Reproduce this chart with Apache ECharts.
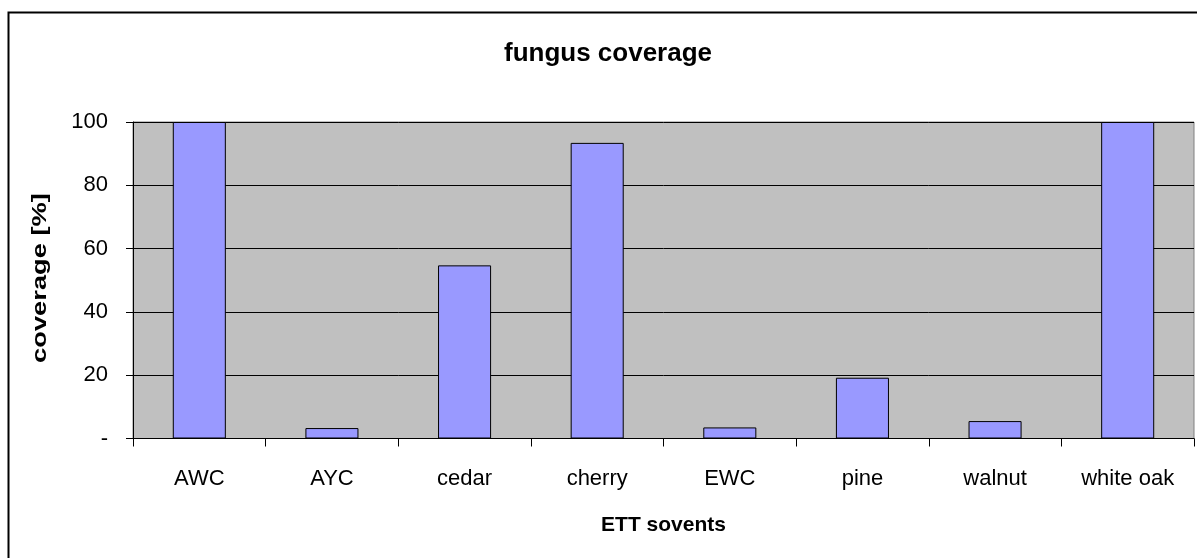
<!DOCTYPE html>
<html>
<head>
<meta charset="utf-8">
<script src="https://cdn.jsdelivr.net/npm/echarts@6/dist/echarts.min.js"></script>
<style>
  html, body { margin: 0; padding: 0; background: #fff; }
  #chart { width: 1197px; height: 558px; }
</style>
</head>
<body>
<div id="chart"></div>
<script>
const categories = ['AWC', 'AYC', 'cedar', 'cherry', 'EWC', 'pine', 'walnut', 'white oak'];
const coverage = [100, 3.3, 54.7, 93.4, 3.5, 19.2, 5.5, 100];
const yTicks = [0, 20, 40, 60, 80, 100];

const chart = echarts.init(document.getElementById('chart'), null, { renderer: 'canvas' });
const FONT = '"Liberation Sans", Arial, sans-serif';

chart.setOption({
  animation: false,
  backgroundColor: '#ffffff',
  title: {
    text: 'fungus coverage',
    left: 603, top: 36,
    textAlign: 'center',
    textStyle: { fontFamily: FONT, fontSize: 26, fontWeight: 'bold', color: '#000' }
  },
  graphic: [
    {
      // outer chart frame
      type: 'rect',
      shape: { x: 8.5, y: 12.5, width: 1300, height: 700 },
      style: { fill: 'none', stroke: '#000', lineWidth: 2 },
      silent: true
    },
    {
      // value axis title, drawn vertically
      type: 'text',
      x: 40, y: 278,
      rotation: Math.PI / 2,
      scaleX: 1.3,
      style: {
        text: 'coverage [%]',
        fontFamily: FONT, fontSize: 21, fontWeight: 'bold', fill: '#000',
        align: 'center', verticalAlign: 'middle'
      },
      silent: true
    }
  ],
  grid: {
    left: 133, right: 3, top: 122, bottom: 119.5,
    show: true,
    backgroundColor: '#c0c0c0',
    borderColor: '#808080',
    borderWidth: 1
  },
  xAxis: {
    type: 'category',
    data: categories,
    name: 'ETT sovents',
    nameLocation: 'middle',
    nameGap: 76,
    nameTextStyle: { fontFamily: FONT, fontSize: 21, fontWeight: 'bold', color: '#000' },
    axisLine: { lineStyle: { color: '#000', width: 1 } },
    axisTick: { show: true, length: 8, lineStyle: { color: '#000' }, alignWithLabel: false },
    axisLabel: { fontFamily: FONT, fontSize: 22, color: '#000', margin: 29 },
    splitLine: { show: false }
  },
  yAxis: {
    type: 'value',
    min: 0, max: 100, interval: 20,
    axisLine: { show: true, lineStyle: { color: '#000', width: 1 } },
    axisTick: { show: true, length: 7, lineStyle: { color: '#000' } },
    axisLabel: {
      fontFamily: FONT, fontSize: 22, color: '#000', margin: 25,
      formatter: function (v) { return yTicks.indexOf(v) === 0 ? '-' : String(v); }
    },
    splitLine: { show: true, lineStyle: { color: '#000', width: 1 } }
  },
  series: [{
    type: 'bar',
    data: coverage,
    barWidth: '40%',
    itemStyle: { color: '#9999ff', borderColor: '#000', borderWidth: 1 }
  }]
});
</script>
</body>
</html>
